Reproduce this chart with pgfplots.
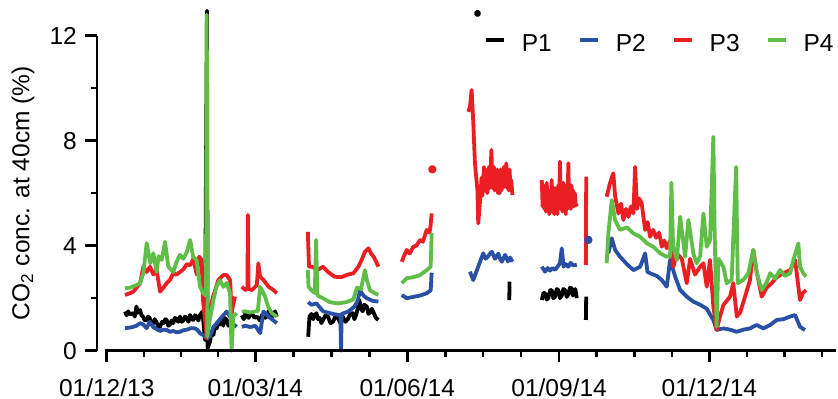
\documentclass[border=0pt]{standalone}
\usepackage{pgfplots}
\pgfplotsset{compat=1.18}
\usepackage{fontspec}
\setmainfont{Liberation Sans}
\definecolor{cP2}{RGB}{40,80,165}
\definecolor{cP3}{RGB}{235,30,36}
\definecolor{cP4}{RGB}{96,190,72}
\begin{document}
\fontsize{12.3}{14}\selectfont
\begin{tikzpicture}
\useasboundingbox (-48.5bp,-24.15bp) rectangle (370.5bp,175.35bp);
\begin{axis}[
  scale only axis, width=369.5bp, height=157.5bp,
  xmin=-5.9, xmax=441.7, ymin=0, ymax=12,
  axis lines=left, axis line style={draw=none},
  clip=false,
  tick align=outside,
  major tick length=5.8bp, minor tick length=3.2bp,
  tick style={black, line width=1.3bp},
  xtick={0,90,182,274,365},
  xticklabels={01/12/13,01/03/14,01/06/14,01/09/14,01/12/14},
  minor xtick={22.5,45,67.5,113,136,159,205,228,251,296.75,319.5,342.25,387.75,410.5,433.25},
  ytick={0,4,8,12}, minor ytick={2,6,10},
  /pgf/number format/assume math mode=true,
  tick label style={font=\fontsize{12.3}{14}\selectfont},
  xticklabel style={yshift=-4bp},
  every axis y label/.style={at={(axis description cs:-0.1001,0.5)},rotate=90,anchor=center,font=\fontsize{12.3}{14}\selectfont},
  ylabel={CO\textsubscript{2} conc. at 40cm (\%)},
  unbounded coords=jump,
  every axis plot/.append style={line width=1.9bp, line join=round},
  legend columns=4,
  legend image code/.code={\draw[#1, line width=2bp] (0bp,2.5bp) -- (9bp,2.5bp);},
  legend style={draw=none, fill=none, inner sep=0pt, at={(axis description cs:1.0027,0.970)}, anchor=east,
    font=\fontsize{12.3}{14}\selectfont, cells={anchor=west, inner sep=0pt},
    /tikz/every odd column/.append style={column sep=6bp},
    /tikz/every even column/.append style={column sep=11bp}},
]
% P1
\addplot[black] coordinates {
(11.1,1.49)(12,1.35)(13,1.5)(14,1.38)(16.1,1.43)(17,1.3)(18,1.68)(19,1.45)(20.2,1.55)(21,1.35)(22,1.3)(23,1.15)(24.2,1.17)(25,1.3)(26,1.25)(27,1.0)(28.2,1.05)(29,1.2)(30,1.1)(31,0.95)(32.3,0.91)(33.5,1.1)(34.5,1.05)(35.5,1.2)(36.3,1.17)(37.3,0.95)(38.3,1.0)(39.3,1.15)(40.3,1.05)(41.3,1.25)(42.3,1.2)(43.3,1.1)(44.4,1.3)(45.4,1.1)(46.4,1.15)(47.4,1.3)(48.5,1.24)(49.5,1.1)(50.5,1.36)(51.5,1.2)(52.5,1.17)(53.5,1.35)(54.5,1.3)(55.5,1.15)(56.5,1.36)(58,1.49)(59.5,0.41)(60.7,12.95)(61.1,0.1)(62.5,0.34)(63.5,0.7)(64.6,0.6)(65.6,0.95)(66.6,0.85)(67.6,1.1)(68.6,1.0)(69.6,1.2)(70.6,0.95)(71.6,1.25)(72.7,1.17)(73.7,0.95)(74.7,1.05)(75.7,1.2)(76.7,0.91)(77.7,nan)
(81.8,1.35)(83,1.2)(84,1.45)(85,1.3)(86,1.25)(87,1.45)(88,1.4)(89.5,1.25)(90.9,1.3)(92.9,1.15)(94,1.35)(95,1.4)(96,1.25)(97,1.3)(98,1.5)(99,1.45)(100,1.3)(101,1.35)(102,1.5)(103,1.3)(104,nan)
(122,0.53)(122.8,1.3)(124,1.4)(125,1.2)(126,1.35)(127,1.43)(128,1.2)(129,1.25)(130,1.05)(131,1.17)(132.5,1.35)(134,1.3)(135.5,1.05)(137,1.1)(138.5,1.3)(140,1.25)(141.5,1.05)(143,1.3)(144.5,1.1)(146,1.2)(147.5,1.4)(149,1.43)(150,1.2)(151,1.35)(152,1.6)(153,1.93)(154,1.6)(155,1.5)(156,1.75)(157.5,1.68)(158.5,1.4)(159.5,1.45)(160.5,1.6)(162,1.4)(163,1.25)(164.5,1.17)(165,nan)
(243.8,1.93)(244,2.63)(245,nan)
(263.5,1.93)(264.5,2.2)(265.5,2.19)(266.5,1.95)(267.5,2.0)(268.5,2.3)(269.5,2.31)(270.5,2.0)(271.5,2.05)(272.5,2.35)(273.5,2.31)(274.5,2.0)(275.6,2.1)(276.6,2.35)(277.6,2.31)(278.6,2.05)(279.6,2.15)(280.6,2.4)(281.6,2.38)(282.3,2.1)(283,2.2)(283.8,2.35)(284.7,2.0)(285,nan)
(290.2,1.17)(290.4,2.06)
};
\addlegendentry{P1}
% P2
\addplot[cP2] coordinates {
(11.1,0.86)(14,0.88)(16.1,0.91)(18,0.95)(20.2,1.05)(22,1.0)(24.2,0.86)(26,1.1)(28.2,0.9)(30.2,0.82)(32.3,0.75)(34.3,0.8)(36.3,0.79)(38.3,0.72)(40.3,0.75)(42.3,0.7)(44.4,0.72)(46.4,0.78)(48.5,0.8)(50.5,0.85)(52.5,0.86)(54.5,0.82)(56.5,0.66)(58.5,0.6)(60.6,0.45)(62.5,0.55)(64.6,0.9)(66.6,1.05)(68.6,1.2)(70.6,1.35)(72.7,1.49)(74.7,1.3)(76.7,1.0)(78.7,0.91)(79.5,nan)
(81.8,0.91)(84,0.95)(87,0.9)(90,0.95)(92.9,0.67)(94.9,1.49)(98,1.3)(101,1.15)(103,1.05)(104,nan)
(122,1.85)(124,1.75)(127,1.8)(131,1.5)(134,1.45)(137,1.4)(141.5,1.35)(141.9,0)(142.3,1.4)(146.5,1.5)(150,1.68)(152,1.9)(153.4,2.3)(155.5,2.1)(157.5,2.0)(161,1.9)(164.5,1.87)(170,nan)
(178.7,2.12)(181.7,2.0)(185.7,2.05)(189.8,2.1)(193.8,2.19)(196.2,2.3)(196.8,2.97)(200,nan)
(220,3.01)(222,2.69)(225,3.2)(228,3.71)(229.5,3.5)(231,3.6)(233.2,3.77)(235.2,3.5)(237.2,3.7)(238.2,3.5)(239.3,3.39)(241.3,3.65)(243,3.4)(244.3,3.55)(245.7,3.39)(250,nan)
(263.5,3.2)(265.5,3.01)(267,3.15)(268.5,3.05)(270,3.15)(271.5,3.08)(273,3.2)(274.5,3.33)(275.6,3.9)(276.7,3.2)(278,3.3)(279.6,3.2)(281,3.35)(282.4,3.25)(284.7,3.27)(288,nan)
(303.8,3.71)(305.9,4.28)(307.9,3.84)(310.9,3.58)(315,3.3)(319,3.07)(323.1,3.2)(326.1,3.71)(327.5,3.0)(329.1,2.95)(333.1,2.85)(336.2,2.69)(339.2,2.44)(341.2,3.46)(344.3,2.82)(347.3,2.31)(351.3,2.06)(355.3,1.87)(359.4,1.75)(363.4,1.6)(367.4,1.17)(369.4,0.79)(373.5,0.85)(377.5,0.8)(381.6,0.72)(385.6,0.8)(389.6,0.85)(393.7,0.98)(397.7,0.85)(401.8,0.98)(405.8,1.17)(409.8,1.2)(413.9,1.3)(416.9,1.36)(419.9,0.91)(422.9,0.79)
};
\addlegendentry{P2}
% P3
\addplot[cP3] coordinates {
(11.1,2.12)(14,2.19)(16.1,2.25)(18,2.4)(20.2,2.57)(22.2,3.2)(24.2,3.0)(26.3,3.2)(28.2,2.9)(30.2,3.07)(32.3,2.25)(34.3,2.4)(36.3,2.57)(38.3,2.7)(40.3,2.95)(42.3,2.9)(44.4,3.0)(46.4,3.1)(48.5,3.3)(50.5,3.25)(52.5,3.5)(54.5,2.9)(56,3.58)(57.5,3.46)(58.3,1.93)(60.6,0.48)(63,1.68)(64.4,2.06)(67.6,2.69)(70.6,2.88)(72.7,2.88)(74.7,2.69)(75.7,1.43)(76.7,1.8)(77.7,2.06)(78.5,nan)
(81.8,2.44)(84,2.31)(85.2,2.35)(85.5,5.17)(85.9,2.35)(88,2.31)(90.9,2.5)(91.8,3.33)(92.9,2.82)(95,2.69)(98,2.44)(101,2.31)(103,2.19)(104,nan)
(121.8,4.53)(122.5,3.2)(124.5,3.2)(127.6,3.07)(131,3.2)(134,3.0)(138,2.82)(142,2.8)(146,2.9)(149.4,2.95)(152.4,3.2)(154.4,3.46)(156.4,3.77)(158.5,3.9)(160,3.71)(162,3.55)(164.5,3.2)(170,nan)
(178.7,3.39)(180,3.6)(181.7,3.84)(183.5,3.7)(185.7,3.96)(187.5,4.0)(189.8,4.22)(191.5,4.15)(193.8,4.6)(195.5,4.5)(196.2,4.8)(196.8,5.23)(205,nan)
(219,9.1)(220,9.3)(221,9.93)(222,8.7)(223,7.15)(224.5,6.12)(225,4.85)(226.5,6.0)(227,6.6)(227.5,5.9)(228,6.38)(228.5,7.0)(229,6.1)(230,6.88)(230.5,6.0)(231,6.3)(231.5,7.0)(232,6.2)(232.5,6.9)(233,7.65)(233.5,6.2)(234,6.38)(234.5,7.0)(235,6.1)(235.5,6.8)(236,6.3)(236.5,6.9)(237,6.0)(237.5,6.6)(238,6.0)(238.5,6.9)(239,6.1)(239.5,6.7)(240,6.2)(240.5,7.0)(241,6.3)(241.5,6.8)(242,7.14)(242.5,6.2)(243,6.7)(243.5,6.1)(244,6.9)(244.5,6.2)(245,6.5)(245.7,5.93)(250,nan)
(263.5,6.5)(264,5.5)(264.5,6.3)(265,5.4)(265.5,6.2)(266,5.3)(266.5,6.4)(267,5.4)(267.5,6.0)(268,5.2)(268.5,6.1)(269,5.3)(269.5,6.5)(270,5.4)(270.5,6.0)(271,5.2)(271.5,6.2)(272,5.3)(272.5,5.9)(273,5.2)(273.5,6.3)(274,5.5)(274.5,7.2)(275,5.4)(275.5,6.2)(276,5.3)(276.5,6.4)(277,5.5)(277.5,6.3)(278,5.2)(278.5,6.1)(279,5.4)(279.6,7.14)(280,5.5)(280.5,6.2)(281,5.4)(281.5,6.3)(282,5.6)(282.5,6.1)(283,5.5)(283.5,6.0)(284,5.6)(284.7,5.49)(287,nan)
(290.2,3.27)(290.4,6.63)(292,nan)
(302.8,5.87)(304.8,6.38)(306.8,6.76)(307.9,5.9)(309.9,5.23)(311.5,5.6)(312.9,4.98)(314.5,5.4)(316,5.1)(317.5,5.5)(319,5.23)(320,7.0)(321.2,5.4)(322.5,5.8)(324,5.61)(326.1,4.6)(327.6,4.9)(329.1,4.34)(331,4.6)(332.7,4.3)(334.5,4.5)(336.2,3.96)(337.7,4.2)(339.2,3.9)(341.2,4.2)(343.2,3.2)(345.3,3.7)(348.3,3.5)(351.3,2.57)(353.3,3.5)(356.3,2.9)(359.4,3.2)(361.4,3.33)(363.4,2.44)(365.4,3.46)(367.4,1.68)(369.4,0.79)(371.4,1.3)(373.5,1.74)(377.5,2.06)(379.5,2.57)(381.6,1.3)(383.6,1.45)(386.6,2.06)(389.6,2.69)(391.6,3.84)(393.7,3.0)(396.7,2.06)(399.7,2.4)(402.7,2.57)(405.8,2.8)(409.8,2.95)(413.9,3.07)(416.9,3.46)(418.4,2.7)(419.9,1.93)(421.7,2.2)(423.5,2.31)
};
\addlegendentry{P3}
% P4
\addplot[cP4] coordinates {
(11.1,2.38)(14,2.4)(16.1,2.45)(18,2.5)(20.2,2.57)(22.2,2.96)(24.2,4.1)(26.4,3.33)(28.2,3.71)(30.2,3.0)(31.4,3.6)(33.3,3.46)(35.3,4.15)(37.3,3.2)(40.3,3.0)(42.4,3.4)(44.4,3.65)(46.4,3.5)(48.5,3.76)(50.5,4.22)(52.3,3.58)(54.4,3.46)(56.5,2.44)(58.5,2.19)(60.1,2.1)(60.6,12.8)(60.9,0.52)(62.4,1.17)(64.5,1.9)(66.4,2.43)(68.6,2.69)(70.7,2.43)(72.7,2.58)(74.7,2.19)(75.6,0)(76.7,1.3)(78.7,1.43)(79.5,nan)
(81.8,1.49)(84,1.5)(87,1.45)(90,1.5)(91.5,1.5)(92.9,2.44)(95.9,2.06)(97.7,1.68)(100,1.43)(103,1.3)(104,nan)
(121.8,3.07)(122.2,2.44)(124,2.3)(126,2.2)(126.8,4.22)(127.6,2.1)(131,2.0)(135,1.85)(140,1.8)(145,1.85)(149.4,1.95)(151.5,2.4)(154,2.35)(156.4,3.07)(157.5,2.7)(159.5,2.3)(162,2.2)(164.5,2.12)(170,nan)
(178.7,2.57)(181.7,2.76)(185.7,2.8)(189.8,2.88)(193.8,3.07)(196.2,3.2)(196.8,4.48)(200,nan)
(302.8,3.33)(303.8,4.47)(305.9,5.74)(307.9,4.98)(310.9,4.6)(315,4.7)(319,4.47)(323.1,4.34)(327.1,4.09)(331.1,3.96)(335.2,3.71)(339.2,3.58)(341.2,3.6)(342,6.4)(343,4.0)(345.3,3.45)(347.3,5.1)(350.3,3.58)(352.3,4.98)(355.3,3.7)(357.3,3.33)(359.4,3.6)(361.4,5.23)(363.4,3.96)(365.4,4.2)(367.4,8.15)(368.2,4.5)(369.4,0.91)(370.5,3.5)(373.5,3.2)(375.5,2.57)(378.5,2.7)(381.2,7.0)(382.2,2.57)(385.6,2.7)(388.6,2.95)(391.6,3.84)(393.6,3.0)(396.7,2.31)(399.7,2.6)(401.8,2.95)(404.8,2.75)(407.8,3.07)(410.8,2.85)(413.9,2.95)(415.9,3.46)(418.9,4.09)(419.9,3.2)(421.9,2.95)(423.5,2.82)
};
\addlegendentry{P4}
% isolated points
\addplot[only marks, mark=*, mark size=0.9bp, black, forget plot] coordinates {(224.5,12.85)};
\addplot[only marks, mark=*, mark size=1.1bp, cP3, forget plot] coordinates {(197.2,6.91)};
\addplot[only marks, mark=*, mark size=1.1bp, cP2, forget plot] coordinates {(291.7,4.22)};
% axis lines
\draw[line width=1.3bp] (rel axis cs:0,0) -- (rel axis cs:0,1);
\draw[line width=1.3bp] (axis cs:-0.8,0) -- (rel axis cs:1,0);
\end{axis}
\end{tikzpicture}
\end{document}
